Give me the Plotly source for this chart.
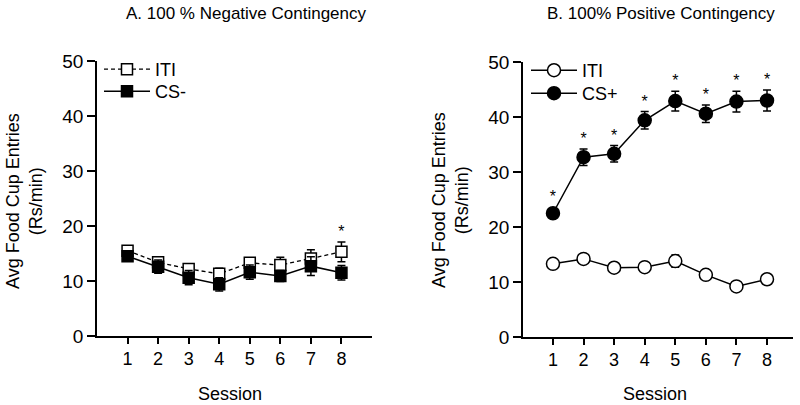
import plotly.graph_objects as go

sessions = [1, 2, 3, 4, 5, 6, 7, 8]

# Panel A: 100 % Negative Contingency
neg_iti = [15.5, 13.4, 12.2, 11.3, 13.3, 12.9, 14.1, 15.3]
neg_iti_err = [0.7, 0.8, 0.8, 1.0, 0.9, 1.4, 1.6, 1.8]
neg_cs = [14.5, 12.6, 10.6, 9.4, 11.6, 10.9, 12.7, 11.5]
neg_cs_err = [0.6, 1.2, 1.3, 1.2, 1.3, 1.0, 1.7, 1.3]
neg_sig = [8]

# Panel B: 100% Positive Contingency
pos_iti = [13.3, 14.2, 12.6, 12.7, 13.8, 11.3, 9.2, 10.5]
pos_iti_err = [0.4, 0.4, 0.4, 0.4, 1.1, 0.5, 0.4, 0.4]
pos_cs = [22.5, 32.7, 33.3, 39.4, 42.9, 40.6, 42.8, 43.0]
pos_cs_err = [0.5, 1.5, 1.5, 1.6, 1.8, 1.6, 1.9, 1.9]
pos_sig = [1, 2, 3, 4, 5, 6, 7, 8]

FONT = "Liberation Sans, Arial, sans-serif"
BLACK = "#000000"

W, H = 800, 405

def xp(px):
    return px / W

def yp(py):
    return 1 - py / H

fig = go.Figure()

def err(arr):
    return dict(type="data", array=arr, visible=True, color=BLACK, thickness=1.5, width=4)

# Left panel
fig.add_trace(go.Scatter(x=sessions, y=neg_iti, error_y=err(neg_iti_err), name="ITI",
                         mode="lines+markers", xaxis="x", yaxis="y", legend="legend",
                         line=dict(color=BLACK, width=1.3, dash="4px,3px"),
                         marker=dict(symbol="square", size=11, color="white",
                                     line=dict(color=BLACK, width=1.5))))
fig.add_trace(go.Scatter(x=sessions, y=neg_cs, error_y=err(neg_cs_err), name="CS-",
                         mode="lines+markers", xaxis="x", yaxis="y", legend="legend2",
                         line=dict(color=BLACK, width=1.5),
                         marker=dict(symbol="square", size=11, color=BLACK,
                                     line=dict(color=BLACK, width=1.5))))
neg_star_y = [neg_iti[s - 1] + neg_iti_err[s - 1] + 1.6 for s in neg_sig]
fig.add_trace(go.Scatter(x=neg_sig, y=neg_star_y, mode="text", text=["*"] * len(neg_sig),
                         textfont=dict(size=16, color=BLACK, family=FONT),
                         showlegend=False, xaxis="x", yaxis="y", hoverinfo="skip"))

# Right panel
fig.add_trace(go.Scatter(x=sessions, y=pos_iti, error_y=err(pos_iti_err), name="ITI",
                         mode="lines+markers", xaxis="x2", yaxis="y2", legend="legend3",
                         line=dict(color=BLACK, width=1.5),
                         marker=dict(symbol="circle", size=13, color="white",
                                     line=dict(color=BLACK, width=1.5))))
fig.add_trace(go.Scatter(x=sessions, y=pos_cs, error_y=err(pos_cs_err), name="CS+",
                         mode="lines+markers", xaxis="x2", yaxis="y2", legend="legend4",
                         line=dict(color=BLACK, width=1.5),
                         marker=dict(symbol="circle", size=13, color=BLACK,
                                     line=dict(color=BLACK, width=1.5))))
pos_star_y = [pos_cs[s - 1] + pos_cs_err[s - 1] + 1.6 for s in pos_sig]
pos_star_y[0] = pos_cs[0] + 2.8
fig.add_trace(go.Scatter(x=pos_sig, y=pos_star_y, mode="text", text=["*"] * len(pos_sig),
                         textfont=dict(size=16, color=BLACK, family=FONT),
                         showlegend=False, xaxis="x2", yaxis="y2", hoverinfo="skip"))

xax = dict(tickvals=sessions, ticks="outside", ticklen=6, tickwidth=1.5, tickcolor=BLACK,
           showline=True, linecolor=BLACK, linewidth=1.5, showgrid=False, zeroline=False,
           tickfont=dict(size=18, family=FONT, color=BLACK), automargin=False)
yax = dict(range=[0, 50], tickvals=[0, 10, 20, 30, 40, 50], ticks="outside", ticklen=8,
           tickwidth=1.5, tickcolor=BLACK, showline=True, linecolor=BLACK, linewidth=1.5,
           showgrid=False, zeroline=False, automargin=False,
           tickfont=dict(size=19, family=FONT, color=BLACK))

leg = dict(bgcolor="rgba(0,0,0,0)", font=dict(size=18, family=FONT, color=BLACK),
           itemwidth=46, yanchor="top", xanchor="left")

def ann(text, x, y, size, angle=0):
    return dict(text=text, x=xp(x), y=yp(y), xref="paper", yref="paper", xanchor="center",
                yanchor="middle", showarrow=False, textangle=angle,
                font=dict(size=size, family=FONT, color=BLACK))

fig.update_layout(
    width=W, height=H, paper_bgcolor="white", plot_bgcolor="white",
    margin=dict(l=0, r=0, t=0, b=0, autoexpand=False), showlegend=True,
    xaxis=dict(xax, domain=[xp(97), xp(372)], range=[0, 9], anchor="y"),
    yaxis=dict(yax, domain=[yp(336), yp(61)], anchor="x"),
    xaxis2=dict(xax, domain=[xp(523), xp(793)], range=[0.02, 8.85], anchor="y2"),
    yaxis2=dict(yax, domain=[yp(337), yp(62)], anchor="x2"),
    legend=dict(leg, x=xp(99), y=yp(51)),
    legend2=dict(leg, x=xp(99), y=yp(73)),
    legend3=dict(leg, x=xp(526), y=yp(52)),
    legend4=dict(leg, x=xp(526), y=yp(75)),
    annotations=[
        ann("A. 100 % Negative Contingency", 246, 14, 17),
        ann("B. 100% Positive Contingency", 661, 14, 17),
        ann("Avg Food Cup Entries<br>(Rs/min)", 25, 201, 18, -90),
        ann("Avg Food Cup Entries<br>(Rs/min)", 450, 200, 18, -90),
        ann("Session", 230, 394, 18),
        ann("Session", 655, 394, 18),
    ],
)

fig.write_html("out.html", config={"displayModeBar": False},
               post_script="document.body.style.margin='0';")
